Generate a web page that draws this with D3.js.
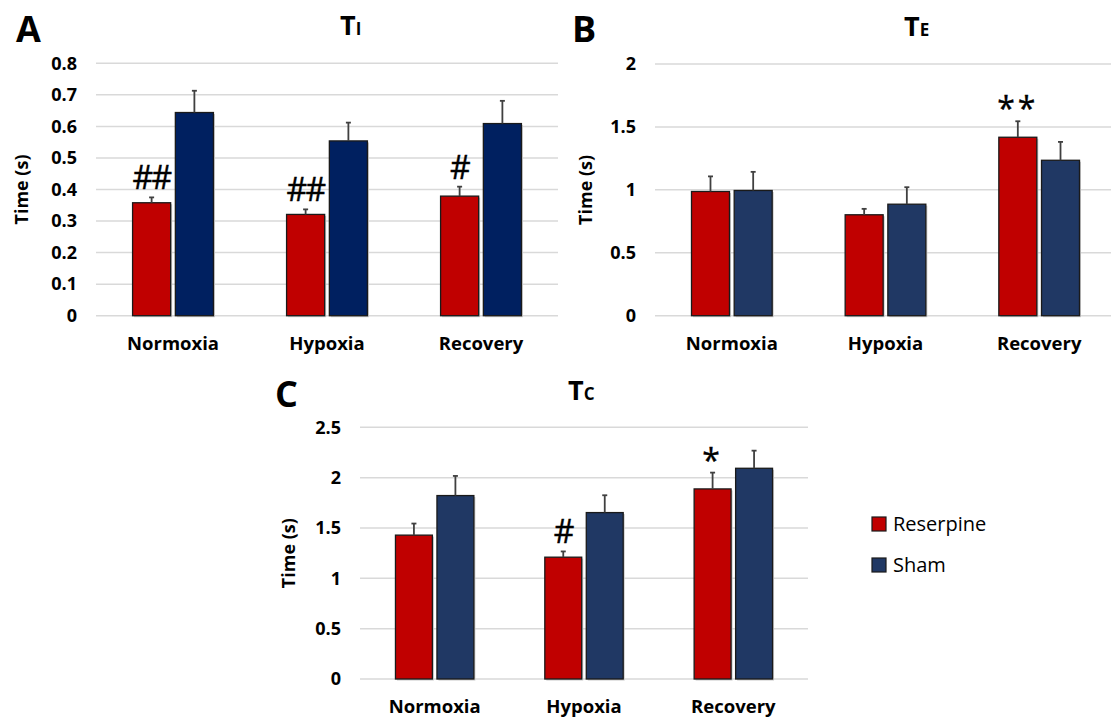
<!DOCTYPE html>
<html>
<head>
<meta charset="utf-8">
<script src="https://cdn.jsdelivr.net/npm/d3@7"></script>
<style>
  html, body { margin: 0; padding: 0; background: #fff; }
  svg { display: block; }
  text { font-family: "Open Sans", "Noto Sans", sans-serif; }
</style>
</head>
<body>
<svg id="chart" width="1111" height="718"></svg>
<script>
// ---------- data ----------
const categories = ["Normoxia", "Hypoxia", "Recovery"];
const seriesNames = ["Reserpine", "Sham"];

const tiReserpine    = [0.358, 0.321, 0.379];
const tiReserpineErr = [0.017, 0.016, 0.030];
const tiSham         = [0.644, 0.554, 0.609];
const tiShamErr      = [0.069, 0.058, 0.072];
const tiMarks        = ["##", "##", "#"];
const tiTicks        = [0, 0.1, 0.2, 0.3, 0.4, 0.5, 0.6, 0.7, 0.8];

const teReserpine    = [0.987, 0.802, 1.418];
const teReserpineErr = [0.120, 0.047, 0.127];
const teSham         = [0.995, 0.886, 1.235];
const teShamErr      = [0.148, 0.135, 0.146];
const teMarks        = ["", "", "**"];
const teTicks        = [0, 0.5, 1, 1.5, 2];

const tcReserpine    = [1.429, 1.210, 1.888];
const tcReserpineErr = [0.115, 0.057, 0.162];
const tcSham         = [1.822, 1.653, 2.093];
const tcShamErr      = [0.195, 0.172, 0.175];
const tcMarks        = ["", "#", "*"];
const tcTicks        = [0, 0.5, 1, 1.5, 2, 2.5];

// ---------- drawing ----------
const svg = d3.select("#chart");
const RED = "#C00000";

function panel(opts) {
  const { x0, x1, yTop, yBot, ticks, res, resErr, sham, shamErr, marks,
          blue, letter, letterX, letterY, titleX, titleY, sub, labelY, yTitleX } = opts;
  const g = svg.append("g");
  const y = d3.scaleLinear().domain([0, d3.max(ticks)]).range([yBot, yTop]);
  const x = d3.scaleBand().domain(categories).range([x0, x1]).paddingInner(0).paddingOuter(0);
  const groupW = x.bandwidth() * 0.525;
  const xs = d3.scaleBand().domain(seriesNames).range([0, groupW]).paddingInner(0.11);

  // gridlines
  g.selectAll("line.grid").data(ticks).enter().append("line")
    .attr("x1", x0).attr("x2", x1)
    .attr("y1", d => y(d)).attr("y2", d => y(d))
    .attr("stroke", "#d9d9d9").attr("stroke-width", 1.5);

  // y axis tick labels via d3 axis
  const ax = d3.axisLeft(y).tickValues(ticks).tickSize(0).tickPadding(19)
    .tickFormat(d => String(d));
  const axg = g.append("g").attr("transform", `translate(${x0},0)`).call(ax);
  axg.select(".domain").remove();
  axg.selectAll("text").attr("font-size", 18).attr("font-weight", "bold")
    .attr("fill", "#000").attr("font-family", "Open Sans");

  // x axis labels via d3 axis
  const bx = d3.axisBottom(x).tickSize(0).tickPadding(0);
  const bxg = g.append("g").attr("transform", `translate(0,${labelY})`).call(bx);
  bxg.select(".domain").remove();
  bxg.selectAll("text").attr("font-size", 18.5).attr("font-weight", "bold")
    .attr("fill", "#000").attr("dy", 0).attr("font-family", "Open Sans");

  const rows = categories.map((c, i) => ({
    cat: c,
    vals: [
      { s: "Reserpine", v: res[i], e: resErr[i], color: RED, mark: marks[i] },
      { s: "Sham", v: sham[i], e: shamErr[i], color: blue, mark: "" }
    ]
  }));

  const grp = g.selectAll("g.cat").data(rows).enter().append("g")
    .attr("transform", d => `translate(${x(d.cat) + (x.bandwidth() - groupW) / 2},0)`);

  const bars = grp.selectAll("g.bar").data(d => d.vals).enter().append("g");

  // shadow
  bars.append("rect")
    .attr("x", d => xs(d.s) + 1.5).attr("y", d => y(d.v) + 1.5)
    .attr("width", xs.bandwidth()).attr("height", d => yBot - y(d.v))
    .attr("fill", "#c8c8c8");
  bars.append("rect")
    .attr("x", d => xs(d.s)).attr("y", d => y(d.v))
    .attr("width", xs.bandwidth()).attr("height", d => yBot - y(d.v))
    .attr("fill", d => d.color).attr("stroke", "#1a1a1a").attr("stroke-width", 1.3);

  // error bars
  bars.append("line")
    .attr("x1", d => xs(d.s) + xs.bandwidth() / 2).attr("x2", d => xs(d.s) + xs.bandwidth() / 2)
    .attr("y1", d => y(d.v)).attr("y2", d => y(d.v + d.e))
    .attr("stroke", "#404040").attr("stroke-width", 1.8);
  bars.append("line")
    .attr("x1", d => xs(d.s) + xs.bandwidth() / 2 - 2.5).attr("x2", d => xs(d.s) + xs.bandwidth() / 2 + 2.5)
    .attr("y1", d => y(d.v + d.e)).attr("y2", d => y(d.v + d.e))
    .attr("stroke", "#404040").attr("stroke-width", 1.8);

  // significance marks
  bars.filter(d => d.mark).append("text")
    .attr("x", d => xs(d.s) + xs.bandwidth() / 2)
    .attr("y", d => y(d.v + d.e) - (d.mark.includes("*") ? 1 : 8))
    .attr("text-anchor", "middle")
    .attr("font-size", 32)
    .attr("letter-spacing", d => d.mark.includes("*") ? 3 : -1.5)
    .attr("stroke", "#000").attr("stroke-width", 0.4)
    .attr("fill", "#000")
    .text(d => d.mark);

  // panel letter
  g.append("text").attr("x", letterX).attr("y", letterY)
    .attr("font-size", 36).attr("font-weight", "bold").attr("fill", "#000").text(letter);

  // title
  const t = g.append("text").attr("x", titleX).attr("y", titleY)
    .attr("font-weight", "bold").attr("fill", "#000");
  t.append("tspan").attr("font-size", 27).text("T");
  t.append("tspan").attr("font-size", 17).text(sub);

  // y title
  g.append("text")
    .attr("transform", `translate(${yTitleX},${(yTop + yBot) / 2}) rotate(-90)`)
    .attr("text-anchor", "middle").attr("font-size", 18).attr("font-weight", "bold")
    .attr("fill", "#000").text("Time (s)");
}

panel({ x0: 96, x1: 558, yTop: 63.3, yBot: 315.7, ticks: tiTicks,
  res: tiReserpine, resErr: tiReserpineErr, sham: tiSham, shamErr: tiShamErr, marks: tiMarks,
  blue: "#002060", letter: "A", letterX: 16, letterY: 42, titleX: 340, titleY: 35, sub: "I",
  labelY: 350, yTitleX: 28 });

panel({ x0: 655, x1: 1116, yTop: 64, yBot: 315.7, ticks: teTicks,
  res: teReserpine, resErr: teReserpineErr, sham: teSham, shamErr: teShamErr, marks: teMarks,
  blue: "#203864", letter: "B", letterX: 572, letterY: 42, titleX: 904, titleY: 36, sub: "E",
  labelY: 350, yTitleX: 592 });

panel({ x0: 360, x1: 808, yTop: 427.3, yBot: 679, ticks: tcTicks,
  res: tcReserpine, resErr: tcReserpineErr, sham: tcSham, shamErr: tcShamErr, marks: tcMarks,
  blue: "#203864", letter: "C", letterX: 275, letterY: 407, titleX: 568, titleY: 400, sub: "C",
  labelY: 713, yTitleX: 295 });

// legend
const legendColors = [RED, "#203864"];
const lg = svg.append("g");
const ly = d3.scalePoint().domain(seriesNames).range([524, 565]);
seriesNames.forEach((s, i) => {
  lg.append("rect").attr("x", 872).attr("y", ly(s) - 7).attr("width", 14).attr("height", 14)
    .attr("fill", legendColors[i]).attr("stroke", "#1a1a1a").attr("stroke-width", 1.2);
  lg.append("text").attr("x", 893).attr("y", ly(s) + 7).attr("font-size", 20)
    .attr("fill", "#000").text(s);
});
</script>
</body>
</html>
